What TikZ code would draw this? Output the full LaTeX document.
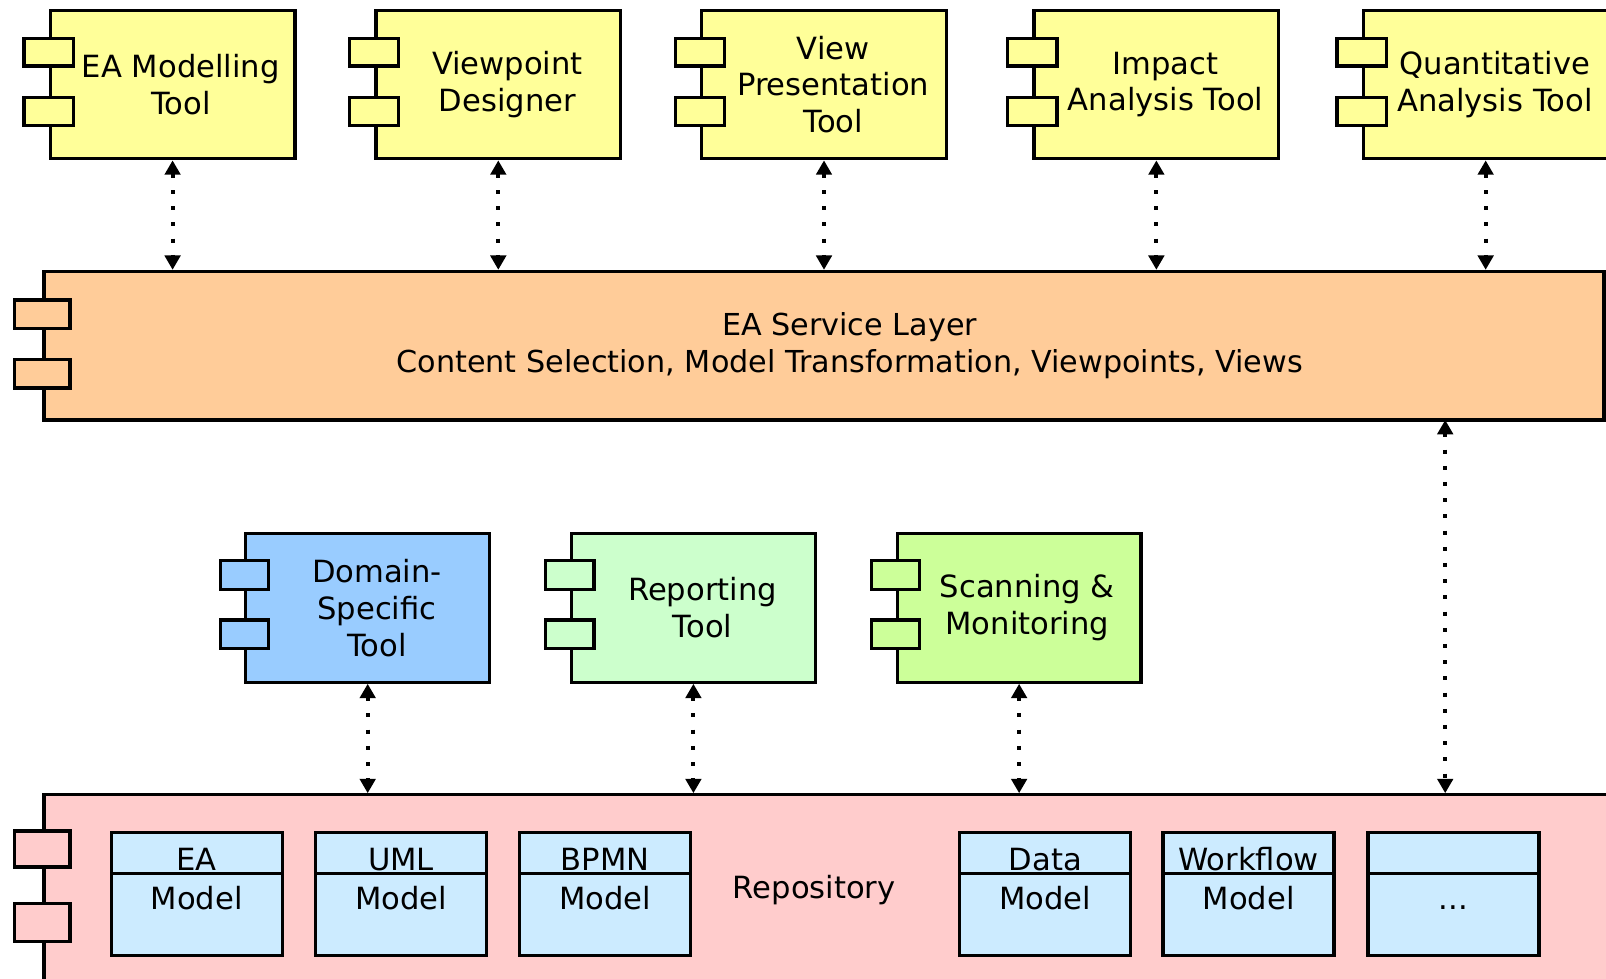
\documentclass[tikz,border=0pt]{standalone}
\usepackage{fontspec}
\setmainfont{DejaVu Sans}
\usetikzlibrary{arrows.meta}
\definecolor{toolyellow}{RGB}{255,255,153}
\definecolor{layerorange}{RGB}{255,204,153}
\definecolor{domainblue}{RGB}{153,204,255}
\definecolor{reportgreen}{RGB}{204,255,204}
\definecolor{scangreen}{RGB}{204,255,153}
\definecolor{repopink}{RGB}{255,204,204}
\definecolor{modelblue}{RGB}{204,235,255}

\begin{document}
\begin{tikzpicture}[
	comp/.style={draw,line width=0.9pt,minimum width=2.39cm,minimum height=1.45cm,inner sep=0pt},
	port/.style={draw,line width=0.9pt,minimum width=0.48cm,minimum height=0.27cm,inner sep=0pt},
	bigport/.style={port,minimum width=0.54cm},
	ctext/.style={align=center,inner sep=0pt,font=\fontsize{8.5}{10.2}\selectfont},
	model/.style={draw,line width=0.9pt,fill=modelblue,minimum width=1.67cm,minimum height=1.2cm,inner sep=0pt},
	mhead/.style={draw,line width=0.9pt,fill=modelblue,minimum width=1.67cm,minimum height=0.4cm,inner sep=0pt,text height=0.33cm,text depth=0cm,font=\fontsize{8.5}{10.2}\selectfont},
	mtext/.style={inner sep=0pt,label distance=0.1cm,text height=0.23cm,text depth=0.05cm,font=\fontsize{8.5}{10.2}\selectfont},
	link/.style={{Triangle[width=0.15cm,length=0.14cm]}-{Triangle[width=0.15cm,length=0.14cm]},line width=1.1pt,dash pattern=on 1.1pt off 3.4pt}
	]
					\useasboundingbox (0,0) rectangle (15.68,-9.55);
					\clip (0,0) rectangle (15.68,-9.55);
					
					\node[comp,fill=toolyellow,label={[ctext,xshift=0.08cm]center:EA Modelling\\Tool}] (emt) at (1.685,-0.825) {};
					\node[comp,fill=toolyellow,label={[ctext,xshift=0.09cm]center:Viewpoint\\Designer}] (vpd) at (4.865,-0.825) {};
					\node[comp,fill=toolyellow,label={[ctext,xshift=0.09cm]center:View\\Presentation\\Tool}] (vpt) at (8.045,-0.825) {};
					\node[comp,fill=toolyellow,label={[ctext,xshift=0.09cm]center:Impact\\Analysis Tool}] (iat) at (11.29,-0.825) {};
					\node[comp,fill=toolyellow,label={[ctext,xshift=0.09cm]center:Quantitative\\Analysis Tool}] (qat) at (14.505,-0.825) {};
					
					\node[port,fill=toolyellow] (emt-p1) at ([yshift=-0.425cm]emt.north west) {};
					\node[port,fill=toolyellow] (emt-p2) at ([yshift=-1.005cm]emt.north west) {};
					\node[port,fill=toolyellow] (vpd-p1) at ([yshift=-0.425cm]vpd.north west) {};
					\node[port,fill=toolyellow] (vpd-p2) at ([yshift=-1.005cm]vpd.north west) {};
					\node[port,fill=toolyellow] (vpt-p1) at ([yshift=-0.425cm]vpt.north west) {};
					\node[port,fill=toolyellow] (vpt-p2) at ([yshift=-1.005cm]vpt.north west) {};
					\node[port,fill=toolyellow] (iat-p1) at ([yshift=-0.425cm]iat.north west) {};
					\node[port,fill=toolyellow] (iat-p2) at ([yshift=-1.005cm]iat.north west) {};
					\node[port,fill=toolyellow] (qat-p1) at ([yshift=-0.425cm]qat.north west) {};
					\node[port,fill=toolyellow] (qat-p2) at ([yshift=-1.005cm]qat.north west) {};
					
					\node[comp,fill=layerorange,minimum width=15.23cm,label={[ctext,xshift=0.25cm,font=\fontsize{8.4}{10.2}\selectfont]center:EA Service Layer\\Content Selection, Model Transformation, Viewpoints, Views}] (esl) at (8.045,-3.375) {};
					\node[bigport,fill=layerorange,minimum height=0.28cm] (esl-p1) at ([yshift=-0.435cm]esl.north west) {};
					\node[bigport,fill=layerorange,minimum height=0.28cm] (esl-p2) at ([yshift=-1.015cm]esl.north west) {};
					
					\node[comp,fill=domainblue,minimum width=2.38cm,label={[ctext,xshift=0.09cm]center:Domain-\\Specific\\Tool}] (dst) at (3.59,-5.935) {};
					\node[comp,fill=reportgreen,minimum width=2.38cm,label={[ctext,xshift=0.09cm]center:Reporting\\Tool}] (rpt) at (6.77,-5.935) {};
					\node[comp,fill=scangreen,minimum width=2.38cm,label={[ctext,xshift=0.08cm]center:Scanning \&\\Monitoring}] (scm) at (9.95,-5.935) {};
					
					\node[port,fill=domainblue,minimum width=0.47cm,minimum height=0.28cm] (dst-p1) at ([yshift=-0.42cm]dst.north west) {};
					\node[port,fill=domainblue,minimum width=0.47cm,minimum height=0.28cm] (dst-p2) at ([yshift=-1.0cm]dst.north west) {};
					\node[port,fill=reportgreen,minimum width=0.47cm,minimum height=0.28cm] (rpt-p1) at ([yshift=-0.42cm]rpt.north west) {};
					\node[port,fill=reportgreen,minimum width=0.47cm,minimum height=0.28cm] (rpt-p2) at ([yshift=-1.0cm]rpt.north west) {};
					\node[port,fill=scangreen,minimum width=0.47cm,minimum height=0.28cm] (scm-p1) at ([yshift=-0.42cm]scm.north west) {};
					\node[port,fill=scangreen,minimum width=0.47cm,minimum height=0.28cm] (scm-p2) at ([yshift=-1.0cm]scm.north west) {};
					
					\node[comp,fill=repopink,minimum width=15.77cm,minimum height=2.24cm] (repo) at (8.315,-8.88) {};
					\node[bigport,fill=repopink,minimum height=0.35cm] (repo-p1) at ([yshift=-0.545cm]repo.north west) {};
					\node[bigport,fill=repopink,minimum height=0.37cm] (repo-p2) at ([yshift=-1.265cm]repo.north west) {};
					\node[ctext] (repo-t) at (7.95,-8.69) {Repository};
					
					\node[model] (eam) at (1.92,-8.73) {};
					\node[model] (uml) at (3.915,-8.73) {};
					\node[model] (bpm) at (5.91,-8.73) {};
					\node[model] (dtm) at (10.205,-8.73) {};
					\node[model] (wfm) at (12.19,-8.73) {};
					\node[model] (etc) at (14.19,-8.73) {};
					\node[mhead,anchor=north,label={[mtext]below:Model}] (eam-h) at (eam.north) {EA};
					\node[mhead,anchor=north,label={[mtext]below:Model}] (uml-h) at (uml.north) {UML};
					\node[mhead,anchor=north,label={[mtext]below:Model}] (bpm-h) at (bpm.north) {BPMN};
					\node[mhead,anchor=north,label={[mtext]below:Model}] (dtm-h) at (dtm.north) {Data};
					\node[mhead,anchor=north,label={[mtext]below:Model}] (wfm-h) at (wfm.north) {Workflow};
					\node[mhead,anchor=north,label={[mtext]below:...}] (etc-h) at (etc.north) {};
					
					\draw[link] (emt.south) -- (emt.south |- esl.north);
					\draw[link] (vpd.south) -- (vpd.south |- esl.north);
					\draw[link] (vpt.south) -- (vpt.south |- esl.north);
					\draw[link] (iat.south) -- (iat.south |- esl.north);
					\draw[link] (qat.south) -- (qat.south |- esl.north);
					
					\draw[link] (dst.south) -- (dst.south |- repo.north);
					\draw[link] (rpt.south) -- (rpt.south |- repo.north);
					\draw[link] (scm.south) -- (scm.south |- repo.north);
					
					\coordinate (esl-out) at (14.11,-4.10);
					\draw[link] (esl-out) -- (esl-out |- repo.north);
\end{tikzpicture}
\end{document}
